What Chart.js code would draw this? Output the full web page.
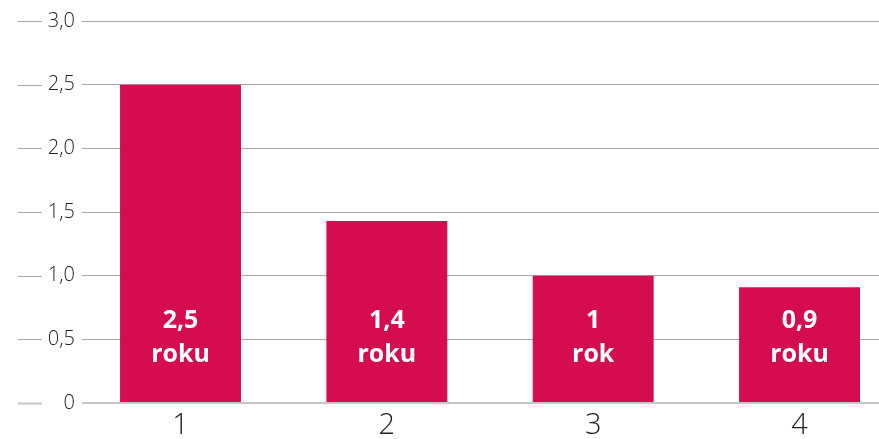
<!DOCTYPE html>
<html>
<head>
<meta charset="utf-8">
<script src="https://cdn.jsdelivr.net/npm/chart.js@4"></script>
<style>
  html, body { margin: 0; padding: 0; background: #fff; overflow: hidden; }
  #wrap { width: 879px; height: 439px; }
</style>
</head>
<body>
<div id="wrap"><canvas id="chart"></canvas></div>
<script>
// dane wykresu
const categories = [1, 2, 3, 4];
const values = [2.5, 1.43, 1.0, 0.91];
const valueLabels = [['2,5', 'roku'], ['1,4', 'roku'], ['1', 'rok'], ['0,9', 'roku']];
const yTicks = [0, 0.5, 1.0, 1.5, 2.0, 2.5, 3.0];

const barColor = '#d60c51';

// kreski po lewej stronie etykiet osi Y
const leftDashes = {
    id: 'leftDashes',
    afterDraw(chart) {
        const ctx = chart.ctx;
        const y = chart.scales.y;
        ctx.save();
        y.ticks.forEach(t => {
            const py = Math.round(y.getPixelForValue(t.value)) + 0.5;
            ctx.strokeStyle = t.value === 0 ? '#c6c6c6' : '#a6a6a6';
            ctx.lineWidth = t.value === 0 ? 2 : 1;
            ctx.beginPath();
            ctx.moveTo(18, py);
            ctx.lineTo(42, py);
            ctx.stroke();
        });
        ctx.restore();
    }
};

// napisy w słupkach
const barLabels = {
    id: 'barLabels',
    afterDatasetsDraw(chart) {
        const ctx = chart.ctx;
        const meta = chart.getDatasetMeta(0);
        const base = chart.scales.y.getPixelForValue(0);
        ctx.save();
        ctx.fillStyle = '#ffffff';
        ctx.font = 'bold 25px "Open Sans", sans-serif';
        ctx.textAlign = 'center';
        ctx.textBaseline = 'middle';
        meta.data.forEach((bar, i) => {
            const lines = valueLabels[i];
            ctx.fillText(lines[0], bar.x, base - 82);
            ctx.fillText(lines[1], bar.x, base - 48);
        });
        ctx.restore();
    }
};

new Chart(document.getElementById('chart'), {
    type: 'bar',
    data: {
        datasets: [{
            data: categories.map((c, i) => ({ x: c, y: values[i] })),
            backgroundColor: barColor,
            borderWidth: 0,
            barPercentage: 0.586,
            categoryPercentage: 1
        }]
    },
    options: {
        responsive: true,
        maintainAspectRatio: false,
        animation: false,
        layout: { padding: { top: 21, right: 0, left: 0, bottom: 0 } },
        plugins: {
            legend: { display: false },
            tooltip: { enabled: false }
        },
        scales: {
            x: {
                type: 'linear',
                offset: false,
                min: 0.5226,
                max: 4.385,
                grid: { display: false, drawTicks: false, offset: false },
                border: { display: false },
                afterBuildTicks: s => { s.ticks = categories.map(v => ({ value: v })); },
                afterFit: s => { s.height = 36; },
                ticks: {
                    padding: 5,
                    color: '#222',
                    font: { family: '"Open Sans", sans-serif', size: 29, weight: 300 },
                    callback: v => String(v)
                }
            },
            y: {
                min: 0,
                max: 3,
                afterBuildTicks: s => { s.ticks = yTicks.map(v => ({ value: v })); },
                afterFit: s => { s.width = 82; },
                border: { display: false },
                grid: {
                    drawTicks: false,
                    color: c => c.tick && c.tick.value === 0 ? '#c6c6c6' : '#a6a6a6',
                    lineWidth: c => c.tick && c.tick.value === 0 ? 2 : 1
                },
                ticks: {
                    padding: 7,
                    color: '#222',
                    font: { family: '"Open Sans", sans-serif', size: 20, weight: 300 },
                    callback: v => v === 0 ? '0' : v.toFixed(1).replace('.', ',')
                }
            }
        }
    },
    plugins: [leftDashes, barLabels]
});
</script>
</body>
</html>
